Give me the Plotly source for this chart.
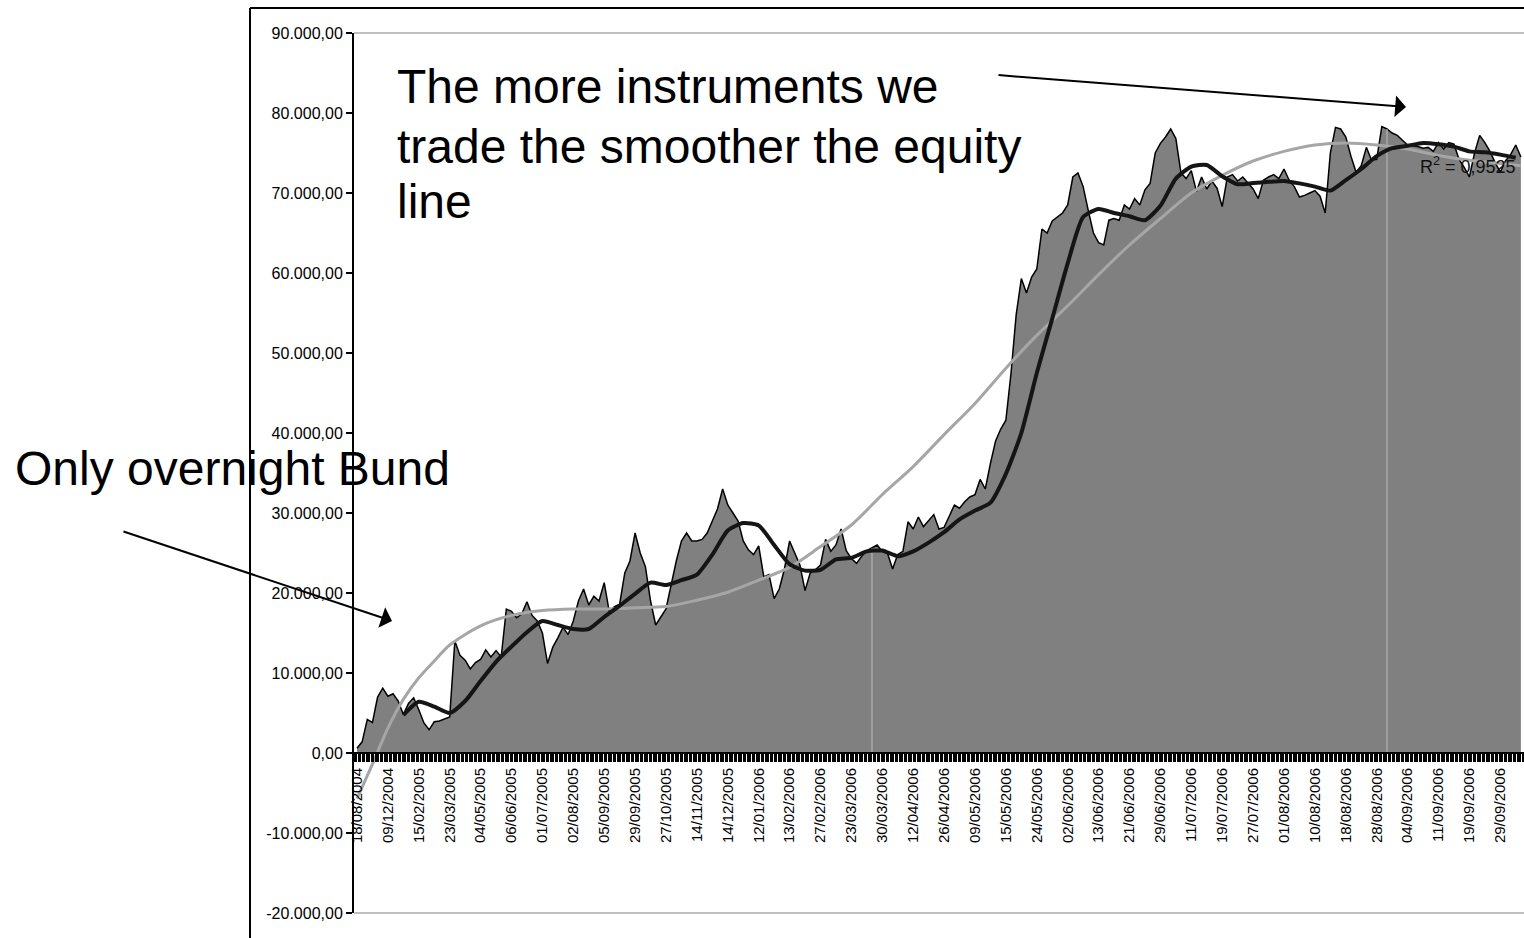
import plotly.graph_objects as go

# ---------------- data ----------------
date_labels = [
    "18/08/2004", "09/12/2004", "15/02/2005", "23/03/2005", "04/05/2005", "06/06/2005",
    "01/07/2005", "02/08/2005", "05/09/2005", "29/09/2005", "27/10/2005", "14/11/2005",
    "14/12/2005", "12/01/2006", "13/02/2006", "27/02/2006", "23/03/2006", "30/03/2006",
    "12/04/2006", "26/04/2006", "09/05/2006", "15/05/2006", "24/05/2006", "02/06/2006",
    "13/06/2006", "21/06/2006", "29/06/2006", "11/07/2006", "19/07/2006", "27/07/2006",
    "01/08/2006", "10/08/2006", "18/08/2006", "28/08/2006", "04/09/2006", "11/09/2006",
    "19/09/2006", "29/09/2006",
]
points_per_label = 6

equity = [
    600, 1400, 4200, 3800, 7000, 8100, 7100, 7400, 6500, 4800,
    6200, 6900, 5400, 3750, 2900, 3900, 4000, 4300, 4500, 14000,
    12200, 11600, 10500, 11300, 11700, 12900, 12000, 12800, 12000, 18000,
    17700, 16900, 17400, 18900, 17200, 16500, 15000, 11200, 13200, 14400,
    15700, 14800, 16500, 19000, 20500, 18500, 19600, 19000, 21300, 17600,
    18300, 18600, 22500, 24000, 27500, 25000, 23300, 19000, 16000, 17000,
    18000, 21000, 24000, 26500, 27500, 26500, 26500, 26700, 27500, 29000,
    30500, 33000, 31000, 30000, 29000, 26500, 25400, 24800, 25900, 22000,
    22300, 19300, 20500, 23000, 26500, 25000, 23500, 20300, 22500, 22900,
    23500, 26700, 25200, 26000, 28000, 25300, 24300, 23700, 24600, 25300,
    25600, 26000, 25200, 25000, 23000, 24800, 25200, 28900, 28000, 29500,
    28300, 29000, 29800, 28000, 28200, 29600, 31000, 30600, 31400, 32000,
    32300, 34200, 33000, 36200, 39000, 40500, 41600, 47500, 54800, 59300,
    57500, 59500, 60500, 65500, 65000, 66500, 67000, 67500, 68500, 72000,
    72500, 70800, 67800, 65000, 63800, 63500, 66600, 66800, 66600, 68500,
    68000, 69300, 68500, 70400, 71200, 75000, 76200, 77000, 78000, 76800,
    72500, 71800, 72800, 70200, 72000, 70500, 71500, 70600, 68300, 72000,
    72300, 71500, 72000, 71200, 70500, 69300, 71600, 72000, 72300, 71800,
    73000, 71600, 70800, 69500, 69700, 70000, 70300, 69600, 67500, 75000,
    78200, 78000, 77000, 74600, 72600, 73400, 75700, 74100, 74200, 78300,
    78000, 77500, 77200, 76600, 76000, 75900, 75800, 75600, 75700, 75200,
    76300, 75500, 76300, 76100, 74200, 73200, 72000, 75000, 77200, 76300,
    75200, 73800, 72600, 74000, 74800, 76000, 74500,
]

ma_idx = [
    9, 12, 15, 18, 21, 24, 27, 30, 33, 36, 39, 42, 45, 48, 51, 54, 57, 60, 63, 66,
    69, 72, 75, 78, 81, 84, 87, 90, 93, 96, 99, 102, 105, 108, 111, 114, 117, 120,
    123, 126, 129, 132, 135, 138, 141, 144, 147, 150, 153, 156, 159, 162, 165, 168,
    171, 174, 177, 180, 183, 186, 189, 192, 195, 198, 201, 204, 207, 210, 213, 216,
    219, 222, 225,
]
moving_avg = [
    4750, 6400, 5800, 5000, 6500, 9000, 11400, 13300, 15100, 16500, 16000, 15500,
    15500, 17000, 18400, 19900, 21300, 21000, 21600, 22300, 24800, 27800, 28750,
    28450, 26000, 23600, 22800, 22900, 24200, 24400, 25200, 25300, 24600, 25200,
    26300, 27600, 29200, 30300, 31300, 34900, 40000, 47500, 54300, 61200, 67000,
    68000, 67500, 67100, 66600, 68400, 71800, 73300, 73500, 72100, 71100, 71250,
    71400, 71500, 71200, 70800, 70300, 71600, 73000, 74600, 75600, 75900, 76250,
    76100, 75800, 75200, 75100, 74800, 74400,
]

trend_idx = [
    0, 3, 6, 9, 12, 15, 18, 24, 30, 36, 42, 48, 54, 60, 66, 72, 78, 84, 90, 96,
    102, 108, 114, 120, 126, 132, 138, 144, 150, 156, 162, 168, 174, 180, 186,
    192, 198, 204, 210, 216, 222, 226,
]
trend = [
    -5700, -1400, 3100, 6700, 9400, 11500, 13500, 15900, 17200, 17800, 18000,
    18000, 18150, 18300, 19100, 20100, 21600, 23200, 25800, 28500, 32300, 35800,
    39800, 43700, 48100, 52200, 55900, 59800, 63500, 66800, 70000, 72200, 74000,
    75200, 76000, 76250, 76000, 75500, 74700, 74100, 73700, 73400,
]
r_squared = "0,9525"

separator_idx = [100, 200]

y_ticks = [-20000, -10000, 0, 10000, 20000, 30000, 40000, 50000, 60000, 70000, 80000, 90000]


def fmt_eu(v):
    s = f"{abs(v):,.2f}".replace(",", "X").replace(".", ",").replace("X", ".")
    return ("-" if v < 0 else "") + s


y_tick_text = [fmt_eu(v) for v in y_ticks]

n = len(equity)
x_idx = list(range(n))
tick_vals = [k * points_per_label for k in range(len(date_labels))]

# ---------------- figure ----------------
W, H = 1524, 938
ML, MR, MT, MB = 354, 0, 33, 25
PW, PH = W - ML - MR, H - MT - MB
FONT = "Liberation Sans, Arial, sans-serif"


def px_x(p):
    return (p - ML) / PW


def px_y(p):
    return 1 - (p - MT) / PH


fig = go.Figure()

fig.add_trace(go.Scatter(
    x=x_idx, y=equity, mode="lines", fill="tozeroy",
    fillcolor="#808080", line=dict(color="#000000", width=1.5),
    hoverinfo="skip",
))

sx, sy = [], []
for s in separator_idx:
    sx += [s, s, None]
    sy += [0, equity[s], None]
fig.add_trace(go.Scatter(x=sx, y=sy, mode="lines",
                         line=dict(color="#bdbdbd", width=1), hoverinfo="skip"))

fig.add_trace(go.Scatter(
    x=trend_idx, y=trend, mode="lines",
    line=dict(color="#a6a6a6", width=3, shape="spline", smoothing=0.8),
    hoverinfo="skip",
))

fig.add_trace(go.Scatter(
    x=ma_idx, y=moving_avg, mode="lines",
    line=dict(color="#151515", width=4, shape="spline", smoothing=0.6),
    hoverinfo="skip",
))

y_lo, y_hi = y_ticks[0], y_ticks[-1]
zero_pos = (0 - y_lo) / (y_hi - y_lo)

x_lo = -0.58
x_hi = x_lo + PW / 5.15

fig.update_layout(
    width=W, height=H,
    margin=dict(l=ML, r=MR, t=MT, b=MB, pad=0),
    paper_bgcolor="white", plot_bgcolor="white",
    showlegend=False,
    font=dict(family=FONT, color="black"),
    xaxis=dict(
        range=[x_lo, x_hi], anchor="free", position=zero_pos,
        showgrid=False, zeroline=False,
        showline=True, linecolor="black", linewidth=2,
        tickmode="array", tickvals=tick_vals, ticktext=date_labels,
        tickangle=-90, ticks="outside", ticklen=8, tickwidth=1, tickcolor="black",
        tickfont=dict(family=FONT, size=15, color="black"),
        minor=dict(ticks="outside", tickmode="linear", tick0=0, dtick=0.25,
                   ticklen=8, tickwidth=1, tickcolor="black", showgrid=False),
    ),
    yaxis=dict(
        range=[y_lo, y_hi], showgrid=False, zeroline=False,
        showline=True, linecolor="black", linewidth=2,
        tickmode="array", tickvals=y_ticks, ticktext=y_tick_text,
        ticks="outside", ticklen=6, tickwidth=1.5, tickcolor="black",
        tickfont=dict(family=FONT, size=16, color="black"),
    ),
)

shapes = [
    # plot-area border (top and bottom, grey)
    dict(type="line", xref="paper", yref="paper", x0=0, x1=1, y0=1, y1=1,
         line=dict(color="#808080", width=1.2)),
    dict(type="line", xref="paper", yref="paper", x0=0, x1=1, y0=0, y1=0,
         line=dict(color="#808080", width=1.2)),
    # chart-area border (black)
    dict(type="line", xref="paper", yref="paper", x0=px_x(250), x1=px_x(250),
         y0=px_y(8), y1=px_y(960), line=dict(color="black", width=2)),
    dict(type="line", xref="paper", yref="paper", x0=px_x(250), x1=px_x(1540),
         y0=px_y(8), y1=px_y(8), line=dict(color="black", width=2)),
]
fig.update_layout(shapes=shapes)

big = dict(family=FONT, size=48, color="black")
ann = []
for txt, base in [("The more instruments we", 103),
                  ("trade the smoother the equity", 163),
                  ("line", 218)]:
    ann.append(dict(text=txt, xref="paper", yref="paper", x=px_x(395),
                    y=px_y(base - 16.6), xanchor="left", yanchor="middle",
                    showarrow=False, font=big))
ann.append(dict(text="Only overnight Bund", xref="paper", yref="paper",
                x=px_x(13), y=px_y(485 - 16.6), xanchor="left", yanchor="middle",
                showarrow=False, font=big))
# arrows
ann.append(dict(text="", xref="paper", yref="paper", x=px_x(392), y=px_y(621),
                ax=122 - 392, ay=531 - 621, showarrow=True, arrowhead=1,
                arrowsize=1.8, arrowwidth=2, arrowcolor="black", standoff=0))
ann.append(dict(text="", xref="paper", yref="paper", x=px_x(1406), y=px_y(107),
                ax=997 - 1406, ay=75 - 107, showarrow=True, arrowhead=1,
                arrowsize=1.8, arrowwidth=2, arrowcolor="black", standoff=0))
# R squared label
ann.append(dict(text="R<sup>2</sup> = " + r_squared, xref="x", yref="y",
                x=206, y=73500, xanchor="left", yanchor="middle", showarrow=False,
                font=dict(family=FONT, size=18, color="#111111")))
fig.update_layout(annotations=ann)

fig.write_html("out.html", config={"displayModeBar": False},
               post_script="document.body.style.margin='0px';")
